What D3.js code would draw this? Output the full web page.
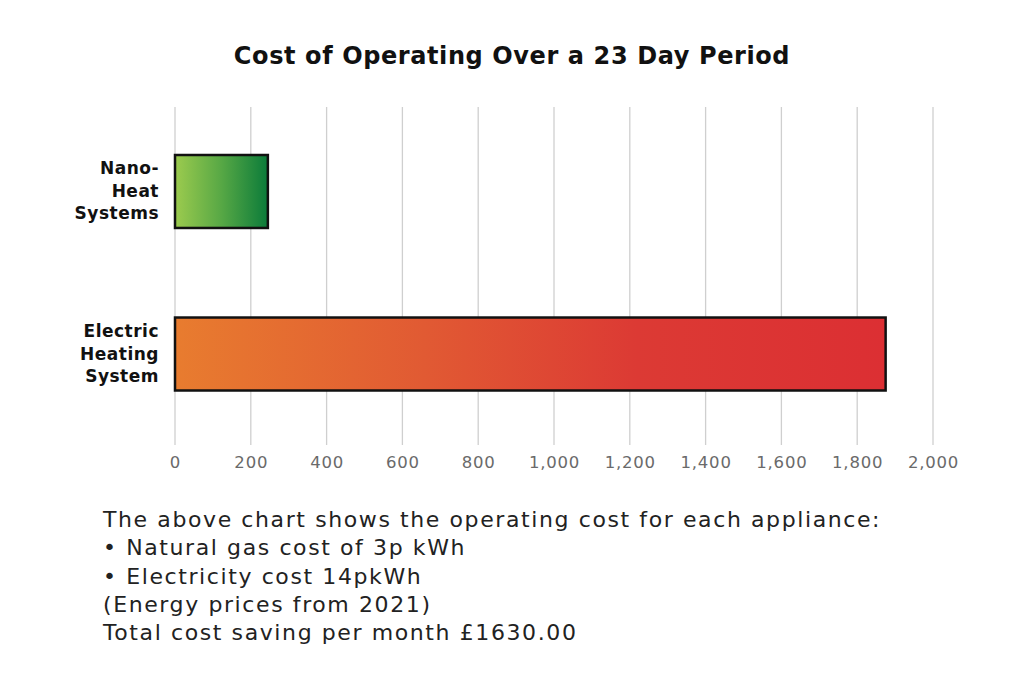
<!DOCTYPE html>
<html>
<head>
<meta charset="utf-8">
<script src="https://cdn.jsdelivr.net/npm/d3@7"></script>
<style>
  body { margin: 0; background: #fff; }
  svg { display: block; }
</style>
</head>
<body>
<svg id="chart" width="1024" height="683"></svg>
<script>
var categories = [["Nano-", "Heat", "Systems"], ["Electric", "Heating", "System"]];
var values = [245, 1875];
var ticks = [0, 200, 400, 600, 800, 1000, 1200, 1400, 1600, 1800, 2000];
var gradients = [
  [[0, "#9ccb4e"], [0.5, "#57a845"], [1, "#0b7b3a"]],
  [[0, "#e87c2f"], [0.35, "#e15a33"], [0.65, "#dc3a34"], [1, "#dc2f33"]]
];
var notes = [
  "The above chart shows the operating cost for each appliance:",
  "\u2022 Natural gas cost of 3p kWh",
  "\u2022 Electricity cost 14pkWh",
  "(Energy prices from 2021)",
  "Total cost saving per month \u00a31630.00"
];

var svg = d3.select('#chart'),
    plotLeft = 175, plotRight = 933, plotTop = 107, plotBottom = 445;

var x = d3.scaleLinear().domain([0, 2000]).range([plotLeft, plotRight]);
var y = d3.scaleBand().domain([0, 1]).range([155, 390.5]).paddingInner(0.551).paddingOuter(0);

// gradients
var defs = svg.append('defs');
gradients.forEach(function(g, i) {
  defs.append('linearGradient').attr('id', 'grad' + i)
    .attr('x1', '0%').attr('x2', '100%').attr('y1', '0%').attr('y2', '0%')
    .selectAll('stop')
    .data(g).enter()
    .append('stop')
    .attr('offset', function(d){ return d[0]; })
    .attr('stop-color', function(d){ return d[1]; });
});

svg.append('text')
  .attr('x', 512).attr('y', 64)
  .attr('text-anchor', 'middle')
  .style('font-family', 'DejaVu Sans, sans-serif')
  .style('font-weight', 'bold')
  .style('font-size', '24px')
  .style('letter-spacing', '0.6px')
  .style('fill', '#111')
  .text('Cost of Operating Over a 23 Day Period');

// grid lines
svg.append('g').selectAll('line')
  .data(ticks).enter()
  .append('line')
  .attr('x1', function(d){ return x(d); })
  .attr('x2', function(d){ return x(d); })
  .attr('y1', plotTop).attr('y2', plotBottom)
  .style('stroke', '#cfcfcf')
  .style('stroke-width', '1.3px');

// x axis labels
var axis = d3.axisBottom(x).tickValues(ticks).tickSize(0).tickPadding(0)
  .tickFormat(d3.format(','));
svg.append('g').attr('transform', 'translate(0,' + (plotBottom + 23) + ')')
  .call(axis)
  .call(function(g){ g.select('.domain').remove(); })
  .selectAll('text')
  .attr('dy', 0)
  .style('font-family', 'DejaVu Sans, sans-serif')
  .style('font-size', '16.5px')
  .style('letter-spacing', '0.8px')
  .style('fill', '#6a6a6a');

// bars
svg.append('g').selectAll('rect')
  .data(values).enter()
  .append('rect')
  .attr('x', x(0))
  .attr('y', function(d, i){ return y(i); })
  .attr('width', function(d){ return x(d) - x(0); })
  .attr('height', y.bandwidth())
  .style('fill', function(d, i){ return 'url(#grad' + i + ')'; })
  .style('stroke', '#111')
  .style('stroke-width', '2.5px');

// category labels
svg.append('g').selectAll('text')
  .data(categories).enter()
  .append('text')
  .attr('text-anchor', 'end')
  .attr('x', 159)
  .attr('y', function(d, i){ return y(i) + y.bandwidth() / 2 - 17; })
  .style('font-family', 'DejaVu Sans, sans-serif')
  .style('font-weight', 'bold')
  .style('font-size', '17px')
  .style('letter-spacing', '0.5px')
  .style('fill', '#111')
  .selectAll('tspan')
  .data(function(d){ return d; }).enter()
  .append('tspan')
  .attr('x', 159)
  .attr('dy', function(d, i){ return i == 0 ? 0 : 22.5; })
  .text(function(d){ return d; });

// notes below the chart
svg.append('g').selectAll('text')
  .data(notes).enter()
  .append('text')
  .attr('x', 103)
  .attr('y', function(d, i){ return 527 + i * 28.3; })
  .style('font-family', 'DejaVu Sans, sans-serif')
  .style('font-size', '22px')
  .style('letter-spacing', '1.6px')
  .style('fill', '#222')
  .text(function(d){ return d; });
</script>
</body>
</html>
